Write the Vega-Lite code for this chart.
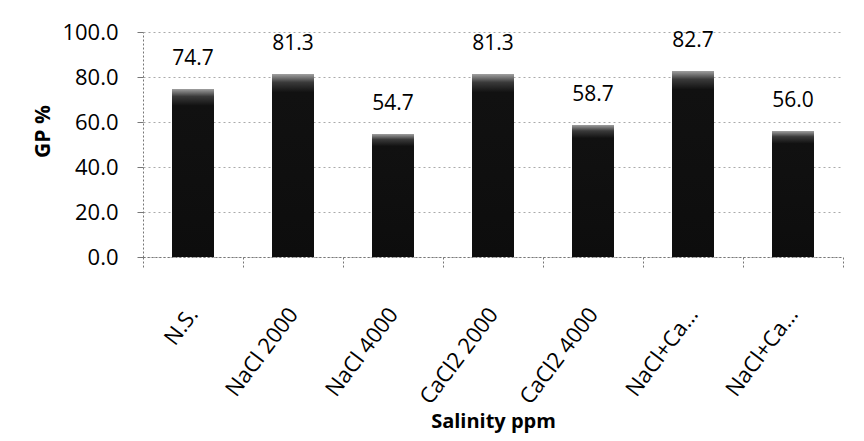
{
  "$schema": "https://vega.github.io/schema/vega-lite/v6.json",
  "width": 700,
  "height": 225,
  "autosize": {"type": "none"},
  "padding": {"left": 143, "top": 32, "right": 21, "bottom": 184},
  "background": "white",
  "config": {"view": {"stroke": null}, "font": "Open Sans"},
  "data": {"values": [
    {"salinity": "N.S.", "gp": 74.7},
    {"salinity": "NaCl 2000", "gp": 81.3},
    {"salinity": "NaCl 4000", "gp": 54.7},
    {"salinity": "CaCl2 2000", "gp": 81.3},
    {"salinity": "CaCl2 4000", "gp": 58.7},
    {"salinity": "NaCl+CaCl2 2000", "gp": 82.7},
    {"salinity": "NaCl+CaCl2 4000", "gp": 56.0}
  ]},
  "encoding": {
    "x": {
      "field": "salinity", "type": "nominal", "sort": null,
      "scale": {"paddingInner": 0, "paddingOuter": 0},
      "axis": {
        "title": "Salinity ppm", "titleFont": "Open Sans", "titleFontSize": 20, "titleFontWeight": "bold", "titleColor": "black",
        "titleBaseline": "alphabetic", "titleY": 170,
        "labelAngle": -53, "labelFontSize": 22, "labelColor": "black", "labelPadding": 42,
        "labelExpr": "length(datum.label) > 12 ? slice(datum.label, 0, 7) + '...' : datum.label",
        "ticks": true, "tickBand": "extent", "tickSize": 11, "tickColor": "#777", "tickDash": [2, 2],
        "domainColor": "#777", "domainDash": [2, 2], "grid": false
      }
    },
    "y": {
      "field": "gp", "type": "quantitative",
      "scale": {"domain": [0, 100]},
      "axis": {
        "title": "GP %", "titleFontSize": 21, "titleFontWeight": "bold", "titleColor": "black",
        "titleX": -100, "titleY": 99, "titleBaseline": "middle", "titleAngle": -90,
        "values": [0, 20, 40, 60, 80, 100], "format": ".1f",
        "labelFontSize": 22, "labelColor": "black", "labelPadding": 19,
        "tickColor": "#777", "tickSize": 6, "domainColor": "#777", "domainDash": [2, 2],
        "grid": true, "gridColor": "#aaa", "gridDash": [2, 3], "gridWidth": 1
      }
    }
  },
  "layer": [
    {
      "mark": {"type": "bar", "width": {"band": 0.42}, "color": {"gradient": "linear", "x1": 0, "y1": 0, "x2": 0, "y2": 1,
        "stops": [{"offset": 0, "color": "#a0a0a0"}, {"offset": 0.045, "color": "#3a3a3a"}, {"offset": 0.1, "color": "#111111"}, {"offset": 1, "color": "#0d0d0d"}]}}
    },
    {
      "mark": {"type": "text", "dy": -20, "fontSize": 21, "color": "black", "baseline": "bottom"},
      "encoding": {"text": {"field": "gp", "type": "quantitative", "format": ".1f"}}
    }
  ]
}
